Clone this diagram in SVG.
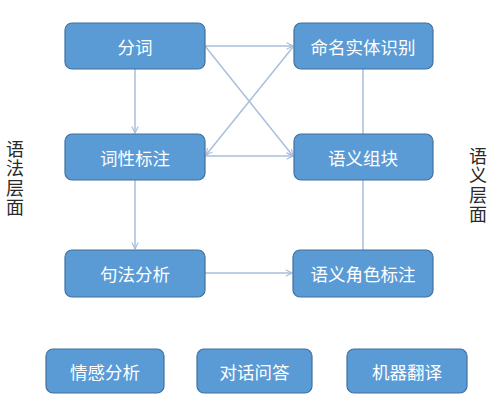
<svg xmlns="http://www.w3.org/2000/svg" width="499" height="405" viewBox="0 0 499 405">
<style>
.box{fill:#5B9BD5;stroke:#41719C;stroke-width:1.2}
.lbl{fill:#fff;font-family:"Noto Sans CJK SC","Noto Sans",sans-serif;font-size:17.5px;text-anchor:middle;dominant-baseline:central}
.side{fill:#2a2a2a;font-family:"Noto Sans CJK SC","Noto Sans",sans-serif;font-size:18px;writing-mode:vertical-rl;letter-spacing:1.5px}
.ln{stroke:#A9BFDD;stroke-width:1.5;fill:none}
</style>
<defs>
<marker id="ah" viewBox="0 0 10 10" refX="9" refY="5" markerWidth="8" markerHeight="8" markerUnits="userSpaceOnUse" orient="auto">
<path d="M1,1 L9,5 L1,9" fill="none" stroke="#A9BFDD" stroke-width="1.5"/>
</marker>
</defs>
<rect width="499" height="405" fill="#fff"/>
<g id="connectors">
<line class="ln" x1="135" y1="69" x2="135" y2="133" marker-end="url(#ah)"/>
<line class="ln" x1="135" y1="180" x2="135" y2="249" marker-end="url(#ah)"/>
<line class="ln" x1="363" y1="69" x2="363" y2="134"/>
<line class="ln" x1="363" y1="180" x2="363" y2="250"/>
<line class="ln" x1="205" y1="46" x2="293" y2="46" marker-end="url(#ah)"/>
<line class="ln" x1="205" y1="46" x2="293" y2="156" marker-end="url(#ah)"/>
<line class="ln" x1="293" y1="47" x2="206" y2="155" marker-end="url(#ah)"/>
<line class="ln" x1="205" y1="156" x2="293" y2="156" marker-end="url(#ah)"/>
<line class="ln" x1="205" y1="273" x2="292" y2="273" marker-end="url(#ah)"/>
</g>
<g id="n-fenci"><rect class="box" x="65" y="23" width="140" height="46" rx="7"/><text class="lbl" x="135" y="46">分词</text></g>
<g id="n-ner"><rect class="box" x="294" y="23" width="139" height="46" rx="7"/><text class="lbl" x="363" y="46">命名实体识别</text></g>
<g id="n-pos"><rect class="box" x="65" y="134" width="140" height="46" rx="7"/><text class="lbl" x="135" y="157">词性标注</text></g>
<g id="n-chunk"><rect class="box" x="294" y="134" width="139" height="46" rx="7"/><text class="lbl" x="363" y="157">语义组块</text></g>
<g id="n-parse"><rect class="box" x="65" y="250" width="140" height="47" rx="7"/><text class="lbl" x="135" y="273">句法分析</text></g>
<g id="n-srl"><rect class="box" x="293" y="250" width="140" height="47" rx="7"/><text class="lbl" x="363" y="273">语义角色标注</text></g>
<g id="n-sent"><rect class="box" x="46" y="349" width="118" height="44" rx="7"/><text class="lbl" x="105" y="371">情感分析</text></g>
<g id="n-qa"><rect class="box" x="197" y="349" width="115" height="44" rx="7"/><text class="lbl" x="254.5" y="371">对话问答</text></g>
<g id="n-mt"><rect class="box" x="347" y="349" width="120" height="44" rx="7"/><text class="lbl" x="407" y="371">机器翻译</text></g>
<g id="side-left"><text class="side" x="15" y="140">语法层面</text></g>
<g id="side-right"><text class="side" x="478" y="147">语义层面</text></g>
</svg>
